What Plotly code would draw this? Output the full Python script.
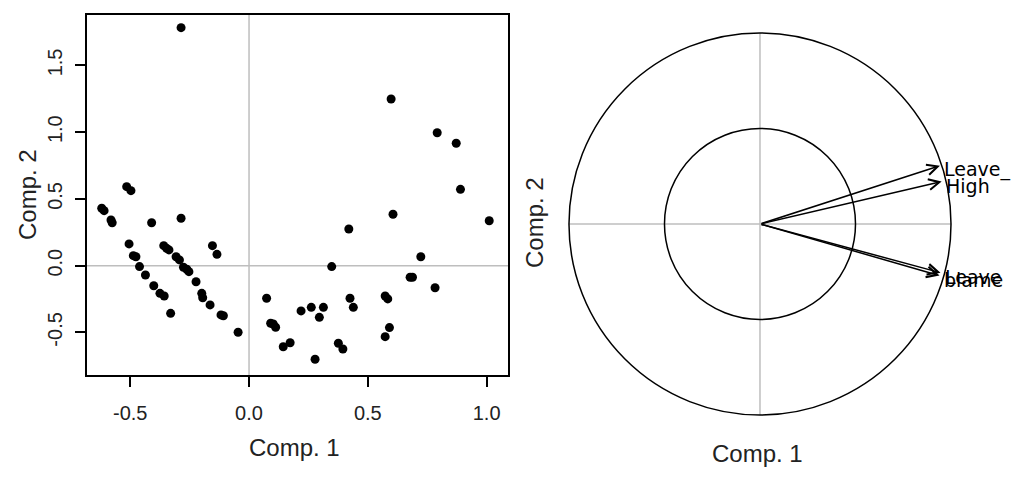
import plotly.graph_objects as go

# ---- data: PCA scores (left panel) ----
comp1 = [-0.286, 0.598, 0.792, 0.872, 0.890, 1.011, 0.606, 0.420,
         -0.620, -0.610, -0.581, -0.576, -0.515, -0.497, -0.410, -0.286,
         -0.505, -0.487, -0.476, -0.461, -0.436, -0.401, -0.375, -0.357,
         -0.330, -0.359, -0.347, -0.337, -0.307, -0.293, -0.276, -0.262,
         -0.253, -0.223, -0.199, -0.195, -0.164, -0.118, -0.108, -0.046,
         -0.154, -0.135, 0.074, 0.091, 0.102, 0.112, 0.144, 0.173,
         0.219, 0.262, 0.278, 0.296, 0.313, 0.348, 0.376, 0.395,
         0.425, 0.439, 0.573, 0.584, 0.573, 0.591, 0.678, 0.688,
         0.723, 0.783]
comp2 = [1.783, 1.249, 0.996, 0.917, 0.572, 0.337, 0.385, 0.275,
         0.430, 0.412, 0.342, 0.322, 0.592, 0.562, 0.322, 0.355,
         0.163, 0.075, 0.067, -0.007, -0.070, -0.150, -0.207, -0.227,
         -0.357, 0.150, 0.130, 0.118, 0.067, 0.043, -0.012, -0.027,
         -0.045, -0.120, -0.207, -0.240, -0.294, -0.369, -0.375, -0.499,
         0.150, 0.085, -0.244, -0.431, -0.437, -0.461, -0.607, -0.577,
         -0.339, -0.312, -0.701, -0.387, -0.312, -0.007, -0.581, -0.624,
         -0.244, -0.312, -0.227, -0.249, -0.532, -0.464, -0.087, -0.087,
         0.067, -0.165]

xtick_vals = [-0.5, 0.0, 0.5, 1.0]
xtick_text = ["-0.5", "0.0", "0.5", "1.0"]
ytick_vals = [-0.5, 0.0, 0.5, 1.0, 1.5]
ytick_text = ["-0.5", "0.0", "0.5", "1.0", "1.5"]

# ---- data: correlation circle (right panel) ----
var_names = ["Leave_", "High", "Leave", "blame"]
load1 = [0.942, 0.951, 0.945, 0.940]
load2 = [0.305, 0.222, -0.255, -0.270]
circle_radii = [1.0, 0.5]

BLACK = "#000000"
GREY = "#bebebe"
FONT = "Liberation Sans, Arial, sans-serif"

# page offset (default body margin) compensation
OFF = 8
W, H = 1022 - OFF, 480 - OFF


def px_x(X):
    return (X - OFF) / W


def px_y(Y):
    return 1 - (Y - OFF) / H


fig = go.Figure()

fig.add_trace(go.Scatter(
    x=comp1, y=comp2, mode="markers",
    marker=dict(color=BLACK, size=9, line=dict(width=0)),
    xaxis="x", yaxis="y", showlegend=False, hoverinfo="skip"))

# invisible anchor trace for right axes
fig.add_trace(go.Scatter(
    x=load1, y=load2, mode="markers", marker=dict(size=1, opacity=0),
    xaxis="x2", yaxis="y2", showlegend=False, hoverinfo="skip"))

shapes = []
shapes.append(dict(type="line", xref="x", yref="y domain", x0=0, x1=0, y0=0, y1=1,
                   line=dict(color=GREY, width=1.5), layer="below"))
shapes.append(dict(type="line", xref="x domain", yref="y", x0=0, x1=1, y0=0, y1=0,
                   line=dict(color=GREY, width=1.5), layer="below"))
rmax = max(circle_radii)
shapes.append(dict(type="line", xref="x2", yref="y2", x0=-rmax, x1=rmax, y0=0, y1=0,
                   line=dict(color=GREY, width=1.5), layer="below"))
shapes.append(dict(type="line", xref="x2", yref="y2", x0=0, x1=0, y0=-rmax, y1=rmax,
                   line=dict(color=GREY, width=1.5), layer="below"))
for r in circle_radii:
    shapes.append(dict(type="circle", xref="x2", yref="y2", x0=-r, x1=r, y0=-r, y1=r,
                       line=dict(color=BLACK, width=1.5)))

annotations = []
for name, a, b in zip(var_names, load1, load2):
    annotations.append(dict(
        x=a, y=b, xref="x2", yref="y2", ax=0, ay=0, axref="x2", ayref="y2",
        text="", showarrow=True, arrowhead=5, arrowsize=1.4, arrowwidth=1.5,
        arrowcolor=BLACK, standoff=0, startstandoff=0))
    annotations.append(dict(
        x=a, y=b, xref="x2", yref="y2", text=name, showarrow=False,
        xanchor="left", yanchor="middle", xshift=2, yshift=-4,
        font=dict(family="DejaVu Sans", size=19, color=BLACK)))

title_font = dict(family=FONT, size=24, color="#222222")
annotations += [
    dict(text="Comp. 1", x=px_x(294), y=px_y(447), xref="paper", yref="paper",
         showarrow=False, font=title_font, xanchor="center", yanchor="middle"),
    dict(text="Comp. 2", x=px_x(28), y=px_y(195), xref="paper", yref="paper",
         showarrow=False, font=title_font, textangle=-90, xanchor="center", yanchor="middle"),
    dict(text="Comp. 1", x=px_x(757), y=px_y(453), xref="paper", yref="paper",
         showarrow=False, font=title_font, xanchor="center", yanchor="middle"),
    dict(text="Comp. 2", x=px_x(534), y=px_y(223), xref="paper", yref="paper",
         showarrow=False, font=title_font, textangle=-90, xanchor="center", yanchor="middle"),
]

tick_font = dict(family=FONT, size=20, color="#222222")
frame = dict(showline=True, mirror=True, linecolor=BLACK, linewidth=2,
             ticks="outside", ticklen=10, tickwidth=2, tickcolor=BLACK,
             showgrid=False, zeroline=False, tickfont=tick_font)

fig.update_layout(
    width=W, height=H,
    margin=dict(l=0, r=0, t=0, b=0),
    paper_bgcolor="white", plot_bgcolor="white",
    showlegend=False,
    xaxis=dict(domain=[px_x(87), px_x(508)], range=[-0.682, 1.090],
               tickvals=xtick_vals, ticktext=xtick_text, anchor="y",
               ticklabelstandoff=9, **frame),
    yaxis=dict(domain=[px_y(375), px_y(15)], range=[-0.819, 1.878],
               tickvals=ytick_vals, ticktext=ytick_text, anchor="x",
               tickangle=-90, ticklabelstandoff=5, **frame),
    xaxis2=dict(domain=[px_x(560), px_x(1015)], range=[-1.047, 1.335],
                visible=False, anchor="y2"),
    yaxis2=dict(domain=[px_y(428), px_y(20)], range=[-1.068, 1.068],
                visible=False, anchor="x2"),
    shapes=shapes,
    annotations=annotations,
)

fig.write_html("out.html")
